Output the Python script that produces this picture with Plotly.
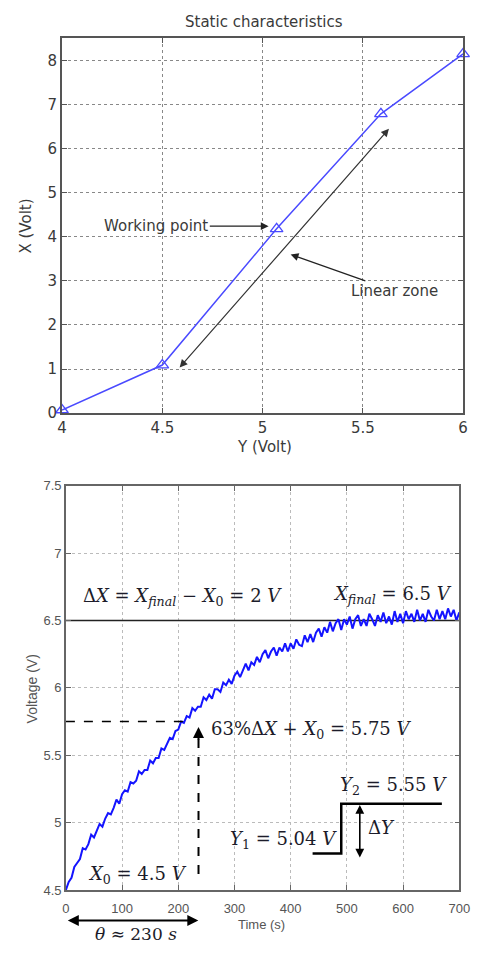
import plotly.graph_objects as go

# ---------------- data: static characteristics (top) ----------------
static_y = [4.0, 4.5, 5.07, 5.59, 6.0]          # Y (Volt)
static_x = [0.07, 1.09, 4.18, 6.79, 8.15]       # X (Volt)
top_xticks = [4, 4.5, 5, 5.5, 6]
top_yticks = [0, 1, 2, 3, 4, 5, 6, 7, 8]
working_point = (5.07, 4.18)
linear_zone_start = (4.58, 1.0)
linear_zone_end = (5.63, 6.45)

# ---------------- data: step response (bottom) ----------------
time_s = list(range(0, 705, 5))
voltage = [
    4.50, 4.56, 4.59, 4.67, 4.70, 4.73, 4.81, 4.80, 4.84, 4.91,
    4.89, 4.94, 4.99, 4.97, 5.03, 5.07, 5.06, 5.11, 5.17, 5.14,
    5.21, 5.24, 5.23, 5.30, 5.29, 5.31, 5.38, 5.36, 5.39, 5.39,
    5.46, 5.44, 5.48, 5.48, 5.55, 5.54, 5.59, 5.63, 5.62, 5.68,
    5.69, 5.75, 5.74, 5.79, 5.78, 5.85, 5.83, 5.86, 5.86, 5.93,
    5.91, 5.95, 5.92, 5.99, 5.99, 5.97, 6.04, 6.02, 6.06, 6.03,
    6.09, 6.12, 6.08, 6.13, 6.18, 6.13, 6.19, 6.17, 6.23, 6.19,
    6.25, 6.28, 6.22, 6.27, 6.30, 6.24, 6.30, 6.27, 6.33, 6.27,
    6.33, 6.29, 6.36, 6.32, 6.31, 6.39, 6.34, 6.40, 6.34, 6.41,
    6.44, 6.38, 6.45, 6.41, 6.49, 6.42, 6.48, 6.51, 6.43, 6.51,
    6.47, 6.53, 6.44, 6.51, 6.54, 6.46, 6.51, 6.46, 6.55, 6.51,
    6.46, 6.54, 6.49, 6.56, 6.48, 6.53, 6.47, 6.57, 6.49, 6.55,
    6.48, 6.57, 6.51, 6.55, 6.49, 6.58, 6.50, 6.55, 6.49, 6.58,
    6.53, 6.50, 6.58, 6.51, 6.57, 6.51, 6.59, 6.53, 6.58, 6.50,
    6.56,
]
bottom_xticks = [0, 100, 200, 300, 400, 500, 600, 700]
bottom_yticks = [4.5, 5, 5.5, 6, 6.5, 7, 7.5]
X0 = 4.5
X_FINAL = 6.5
X_63 = 5.75
THETA = 236
step_t = [439, 490, 490, 669]
step_v = [4.77, 4.77, 5.14, 5.14]
dY_t = 523
dY_range = (4.73, 5.13)

fig = go.Figure()

BLUE_TOP = "#4a4aff"
BLUE_BOT = "#1414ff"
DARK = "#3a3a3a"
MATH = "#1c1c2a"

# ---- top traces ----
fig.add_trace(go.Scatter(
    x=static_y, y=static_x, mode="lines+markers", xaxis="x", yaxis="y",
    line=dict(color=BLUE_TOP, width=1.5),
    marker=dict(symbol="triangle-up-open", size=11, color=BLUE_TOP, line=dict(width=1.3)),
    cliponaxis=False, showlegend=False, hoverinfo="skip"))

# ---- bottom traces ----
fig.add_trace(go.Scatter(
    x=[0, 700], y=[X_FINAL, X_FINAL], mode="lines", xaxis="x2", yaxis="y2",
    line=dict(color="#222222", width=1.5), showlegend=False, hoverinfo="skip"))
fig.add_trace(go.Scatter(
    x=time_s, y=voltage, mode="lines", xaxis="x2", yaxis="y2",
    line=dict(color=BLUE_BOT, width=2), showlegend=False, hoverinfo="skip"))
fig.add_trace(go.Scatter(
    x=[0, 215], y=[X_63, X_63], mode="lines", xaxis="x2", yaxis="y2",
    line=dict(color="black", width=1.6, dash="dash"), showlegend=False, hoverinfo="skip"))
fig.add_trace(go.Scatter(
    x=[THETA, THETA], y=[5.62, 4.56], mode="lines", xaxis="x2", yaxis="y2",
    line=dict(color="black", width=2, dash="dash"), showlegend=False, hoverinfo="skip"))
fig.add_trace(go.Scatter(
    x=step_t, y=step_v, mode="lines", xaxis="x2", yaxis="y2",
    line=dict(color="black", width=2.5), showlegend=False, hoverinfo="skip"))

# figure kept a hair smaller than the window so the page never scrolls
W, H = 478, 954
def px_x(a, b):
    return [a / W, b / W]
def px_y(top, bottom):
    return [1 - bottom / H, 1 - top / H]

top_font = dict(family="DejaVu Sans, Arial", size=15, color=DARK)
bot_font = dict(family="Liberation Sans Narrow, Arial Narrow, Liberation Sans, Arial", size=13, color="#555555")

axis_common = dict(showline=True, mirror="ticks", ticks="inside", showgrid=True,
                   griddash="dot", zeroline=False, fixedrange=True)

fig.update_layout(
    width=W, height=H, margin=dict(l=0, r=0, t=0, b=0), autosize=False,
    paper_bgcolor="white", plot_bgcolor="white",
    xaxis=dict(domain=px_x(59, 474), range=[4, 6], tickvals=top_xticks,
               ticktext=["4", "4.5", "5", "5.5", "6"], tickfont=top_font,
               linecolor="#555555", linewidth=2, tickcolor="#555555", ticklen=5,
               gridcolor="#888888", gridwidth=1, anchor="y", ticklabeloverflow="allow",
               **axis_common),
    yaxis=dict(domain=px_y(32, 413), range=[0, 8.5], tickvals=top_yticks,
               tickfont=top_font, linecolor="#555555", linewidth=2, tickcolor="#555555",
               ticklen=5, gridcolor="#888888", gridwidth=1, anchor="x", **axis_common),
    xaxis2=dict(domain=px_x(63, 470), range=[0, 700], tickvals=bottom_xticks,
                tickfont=bot_font, linecolor="#666666", linewidth=1.5, tickcolor="#666666",
                ticklen=5, gridcolor="#bbbbbb", gridwidth=1, anchor="y2",
                ticklabelstandoff=6, ticklabeloverflow="allow", **axis_common),
    yaxis2=dict(domain=px_y(487, 898), range=[4.5, 7.5], tickvals=bottom_yticks,
                ticktext=["4.5", "5", "5.5", "6", "6.5", "7", "7.5"],
                tickfont=bot_font, linecolor="#666666", linewidth=1.5, tickcolor="#666666",
                ticklen=5, gridcolor="#bbbbbb", gridwidth=1, anchor="x2", **axis_common),
)

ann = []
def txt(t, x, y, font, xref="paper", yref="paper", angle=0):
    ann.append(dict(text=t, xref=xref, yref=yref, x=x, y=y, showarrow=False,
                    xanchor="center", yanchor="middle", textangle=angle, font=font))

# top titles
txt("Static characteristics", 268 / W, 1 - 15 / H, top_font)
txt("Y (Volt)", 268 / W, 1 - 447 / H, top_font)
txt("X (Volt)", 22 / W, 1 - 223 / H, top_font, angle=-90)
# working point
ann.append(dict(text="Working point", xref="x", yref="y", axref="x", ayref="y",
                x=working_point[0] - 0.04, y=working_point[1] + 0.06,
                ax=4.47, ay=working_point[1] + 0.06,
                showarrow=True, arrowhead=2, arrowsize=1.3, arrowwidth=1.2,
                arrowcolor="#222222", font=top_font))
# linear zone
ann.append(dict(text="Linear zone", xref="x", yref="y", axref="x", ayref="y",
                x=5.14, y=3.6, ax=5.66, ay=2.76,
                showarrow=True, arrowhead=2, arrowsize=1.3, arrowwidth=1.2,
                arrowcolor="#222222", font=top_font))
ann.append(dict(text="", xref="x", yref="y", axref="x", ayref="y",
                x=linear_zone_end[0], y=linear_zone_end[1],
                ax=linear_zone_start[0], ay=linear_zone_start[1],
                showarrow=True, arrowhead=2, startarrowhead=2, arrowside="end+start",
                arrowsize=1.3, startarrowsize=1.3, arrowwidth=1.2, arrowcolor="#333333"))

# bottom axis titles
txt("Time (s)", 265 / W, 1 - 933 / H, bot_font)
txt("Voltage (V)", 28 / W, 1 - 694 / H, dict(bot_font, size=14), angle=-90)

math_font = dict(family="DejaVu Serif, Liberation Serif, serif", size=18, color=MATH)
def mtext(t, x, y, xref="x2", yref="y2", size=18):
    txt(t, x, y, dict(math_font, size=size), xref=xref, yref=yref)

mtext("Δ<i>X</i> = <i>X</i><sub><i>final</i></sub> − <i>X</i><sub>0</sub> = 2 <i>V</i>", 207, 6.675)
mtext("<i>X</i><sub><i>final</i></sub> = 6.5 <i>V</i>", 582, 6.69)
mtext("63%Δ<i>X</i> + <i>X</i><sub>0</sub> = 5.75 <i>V</i>", 437, 5.69)
mtext("<i>Y</i><sub>2</sub> = 5.55 <i>V</i>", 583, 5.27)
mtext("Δ<i>Y</i>", 562, 4.96)
mtext("<i>Y</i><sub>1</sub> = 5.04 <i>V</i>", 388, 4.87)
mtext("<i>X</i><sub>0</sub> = 4.5 <i>V</i>", 128, 4.61)
mtext("<i>θ</i> ≈ 230 <i>s</i>", 136 / W, 1 - 943 / H, xref="paper", yref="paper", size=17)

# dashed arrow heads
ann.append(dict(text="", xref="x2", yref="y2", x=THETA, y=5.71, ax=0, ay=14,
                showarrow=True, arrowhead=2, arrowsize=1.1, arrowwidth=2, arrowcolor="black"))
ann.append(dict(text="", xref="x2", yref="y2", x=THETA, y=4.47, ax=0, ay=-14,
                showarrow=True, arrowhead=2, arrowsize=1.1, arrowwidth=2, arrowcolor="black"))
# delta Y arrow
ann.append(dict(text="", xref="x2", yref="y2", axref="x2", ayref="y2",
                x=dY_t, y=dY_range[1], ax=dY_t, ay=dY_range[0],
                showarrow=True, arrowhead=2, startarrowhead=2, arrowside="end+start",
                arrowsize=1.1, startarrowsize=1.1, arrowwidth=1.6, arrowcolor="black"))
# theta arrow (below axis)
ann.append(dict(text="", xref="paper", yref="paper", axref="pixel", ayref="pixel",
                x=200 / W, y=1 - 929 / H, ax=-132, ay=0,
                showarrow=True, arrowhead=2, startarrowhead=2, arrowside="end+start",
                arrowsize=1.1, startarrowsize=1.1, arrowwidth=2, arrowcolor="black"))

fig.update_layout(annotations=ann)
fig.write_html("out.html", config={"displayModeBar": False})
